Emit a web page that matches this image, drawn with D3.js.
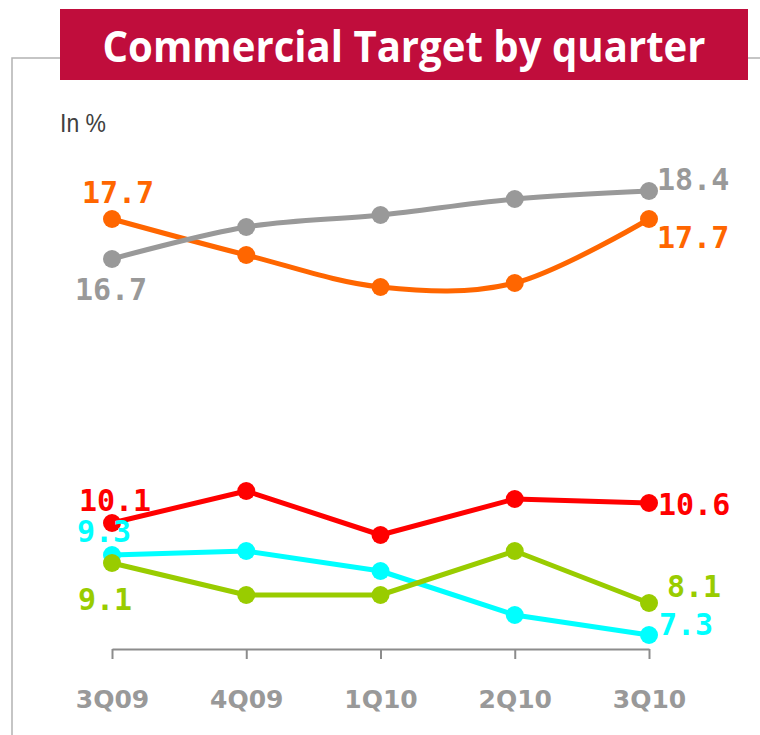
<!DOCTYPE html>
<html>
<head>
<meta charset="utf-8">
<script src="https://cdn.jsdelivr.net/npm/d3@7"></script>
<style>
  body { margin: 0; background: #fff; }
  svg { display: block; }
</style>
</head>
<body>
<svg width="760" height="735"></svg>
<script>
const width = 760;
const height = 735;

// data
const quarters = ["3Q09", "4Q09", "1Q10", "2Q10", "3Q10"];
const orangeValues = [17.7, 16.8, 16.0, 16.1, 17.7];
const greyValues = [16.7, 17.5, 17.8, 18.2, 18.4];
const redValues = [10.1, 10.9, 9.8, 10.7, 10.6];
const cyanValues = [9.3, 9.4, 8.9, 7.8, 7.3];
const greenValues = [9.1, 8.3, 8.3, 9.4, 8.1];

const titleText = "Commercial Target by quarter";
const unitText = "In %";

// draw order + look of each series; label offsets are relative to the first / last point
const series = [
  { values: orangeValues, color: "#ff6600", smooth: true,  first: [6, -16, "middle"], last: [8, 29, "start"] },
  { values: greyValues,   color: "#999999", smooth: true,  first: [-1, 41, "middle"], last: [8, -1, "start"] },
  { values: redValues,    color: "#ff0000", smooth: false, first: [3, -12, "middle"], last: [9, 12, "start"] },
  { values: cyanValues,   color: "#00ffff", smooth: false, first: [-8, -13, "middle"], last: [10, 0, "start"] },
  { values: greenValues,  color: "#99cc00", smooth: false, first: [-7, 47, "middle"], last: [18, -6, "start"] }
];

const svg = d3.select("svg");

const x = d3.scalePoint()
  .domain(quarters)
  .range([112, 649]);

const y = d3.scaleLinear()
  .domain([6.95, 19])
  .range([649, 167]);

// frame
svg.append("path")
  .attr("d", `M12,${height} V58 H${width}`)
  .attr("fill", "none")
  .attr("stroke", "#b3b3b3")
  .attr("stroke-width", 1.5);

// title banner
svg.append("rect")
  .attr("x", 60)
  .attr("y", 9)
  .attr("width", 688)
  .attr("height", 71)
  .attr("fill", "#c00d3c");

svg.append("text")
  .attr("x", 404)
  .attr("y", 62)
  .attr("text-anchor", "middle")
  .attr("fill", "#fff")
  .attr("font-family", "'Open Sans', sans-serif")
  .attr("font-weight", 700)
  .attr("font-size", 43)
  .attr("textLength", 603)
  .attr("lengthAdjust", "spacingAndGlyphs")
  .text(titleText);

svg.append("text")
  .attr("x", 60)
  .attr("y", 132)
  .attr("fill", "#404040")
  .attr("font-family", "'Liberation Sans', sans-serif")
  .attr("font-size", 25)
  .attr("textLength", 46)
  .attr("lengthAdjust", "spacingAndGlyphs")
  .text(unitText);

// x axis
const axis = svg.append("g")
  .attr("transform", `translate(0,${y.range()[0]})`)
  .call(d3.axisBottom(x).tickSizeInner(10).tickSizeOuter(0).tickPadding(31));

axis.select(".domain")
  .attr("stroke", "#8c8c8c")
  .attr("stroke-width", 2);

axis.selectAll(".tick line")
  .attr("stroke", "#8c8c8c")
  .attr("stroke-width", 2);

axis.selectAll(".tick text")
  .attr("fill", "#999999")
  .attr("font-family", "'DejaVu Sans', sans-serif")
  .attr("font-weight", "bold")
  .attr("font-size", 25);

// series
for (const s of series) {
  const line = d3.line()
    .x((d, i) => x(quarters[i]))
    .y(d => y(d))
    .curve(s.smooth ? d3.curveCardinal.tension(0) : d3.curveLinear);

  const g = svg.append("g");

  g.append("path")
    .datum(s.values)
    .attr("d", line)
    .attr("fill", "none")
    .attr("stroke", s.color)
    .attr("stroke-width", 5)
    .attr("stroke-linejoin", "round");

  g.selectAll("circle")
    .data(s.values)
    .join("circle")
      .attr("cx", (d, i) => x(quarters[i]))
      .attr("cy", d => y(d))
      .attr("r", 9)
      .attr("fill", s.color);

  const n = s.values.length - 1;
  const ends = [
    { i: 0, off: s.first },
    { i: n, off: s.last }
  ];

  g.selectAll("text")
    .data(ends)
    .join("text")
      .attr("x", d => x(quarters[d.i]) + d.off[0])
      .attr("y", d => y(s.values[d.i]) + d.off[1])
      .attr("text-anchor", d => d.off[2])
      .attr("fill", s.color)
      .attr("font-family", "'DejaVu Sans Mono', monospace")
      .attr("font-weight", "bold")
      .attr("font-size", 30)
      .text(d => d3.format(".1f")(s.values[d.i]));
}
</script>
</body>
</html>
